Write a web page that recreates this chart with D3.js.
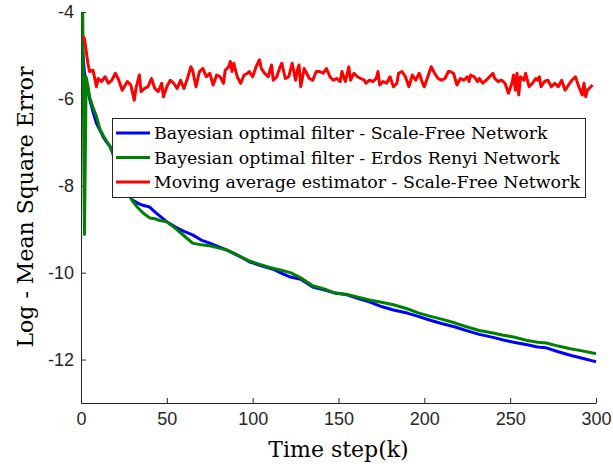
<!DOCTYPE html>
<html>
<head>
<meta charset="utf-8">
<script src="https://cdn.jsdelivr.net/npm/d3@7"></script>
<style>
  body { margin: 0; background: #fff; }
  svg { display: block; }
</style>
</head>
<body>
<div id="chart"></div>
<script>
// [time step, log MSE]
var bayesScaleFree = [
    [1, -4.9], [2, -5.4], [3, -5.6], [4, -5.8], [5, -6.0], [7, -6.3], [9, -6.56], [11, -6.72],
    [13, -6.88], [15, -7.0], [17, -7.1], [19, -7.3], [22, -7.6], [25, -7.9], [28, -8.2], [30, -8.33],
    [33, -8.4], [36, -8.45], [40, -8.49], [43, -8.6], [46, -8.7], [50, -8.83], [55, -8.95], [60, -9.05],
    [65, -9.13], [70, -9.25], [75, -9.32], [80, -9.4], [85, -9.48], [90, -9.58], [95, -9.68], [98, -9.75],
    [105, -9.84], [112, -9.92], [116, -10.0], [122, -10.1], [128, -10.15], [135, -10.33], [142, -10.4],
    [148, -10.47], [155, -10.51], [162, -10.6], [168, -10.67], [175, -10.78], [182, -10.86], [190, -10.93],
    [196, -11.0], [203, -11.09], [210, -11.17], [218, -11.25], [225, -11.34], [232, -11.42], [240, -11.49],
    [246, -11.55], [252, -11.6], [260, -11.66], [266, -11.71], [271, -11.73], [278, -11.82], [285, -11.9],
    [292, -11.97], [298, -12.03], [300, -12.05]
];

var bayesErdosRenyi = [
    [1, -4.0], [2, -9.12], [3, -5.5], [4, -5.7], [5, -5.95], [7, -6.2], [9, -6.4], [11, -6.7],
    [13, -6.85], [15, -6.98], [17, -7.1], [19, -7.3], [22, -7.6], [25, -7.9], [28, -8.2], [30, -8.35],
    [33, -8.5], [36, -8.62], [40, -8.74], [43, -8.76], [46, -8.8], [50, -8.83], [55, -8.98], [60, -9.15],
    [65, -9.32], [70, -9.36], [75, -9.38], [80, -9.43], [85, -9.48], [90, -9.57], [95, -9.67], [98, -9.73],
    [105, -9.82], [110, -9.88], [116, -9.94], [122, -10.0], [128, -10.12], [135, -10.3], [142, -10.38],
    [148, -10.47], [155, -10.5], [162, -10.57], [168, -10.63], [175, -10.68], [182, -10.74], [190, -10.83],
    [196, -10.92], [203, -11.0], [210, -11.07], [218, -11.16], [225, -11.25], [232, -11.33], [240, -11.39],
    [246, -11.44], [252, -11.48], [260, -11.56], [266, -11.6], [271, -11.62], [278, -11.69], [285, -11.75],
    [292, -11.8], [298, -11.85], [300, -11.86]
];

var movingAverage = [
    [1, -4.55], [2, -4.61], [4, -5.18], [5, -5.37], [7, -5.34], [9, -5.72], [10, -5.53], [12, -5.60],
    [14, -5.49], [16, -5.64], [18, -5.57], [20, -5.41], [22, -5.57], [24, -5.80], [27, -5.60], [29, -5.68],
    [31, -6.03], [32, -5.76], [34, -5.45], [35, -5.83], [37, -5.76], [39, -5.72], [41, -5.53], [43, -5.76],
    [45, -5.83], [47, -5.64], [48, -5.95], [50, -5.72], [52, -5.57], [54, -5.64], [56, -5.76], [58, -5.57],
    [60, -5.76], [62, -5.53], [64, -5.26], [65, -5.34], [67, -5.72], [69, -5.37], [71, -5.30], [73, -5.49],
    [75, -5.41], [77, -5.68], [79, -5.45], [81, -5.49], [83, -5.64], [84, -5.34], [86, -5.26], [87, -5.14],
    [88, -5.37], [89, -5.18], [91, -5.49], [93, -5.64], [95, -5.45], [97, -5.41], [98, -5.37], [100, -5.49],
    [102, -5.26], [104, -5.10], [105, -5.30], [107, -5.41], [109, -5.49], [111, -5.22], [112, -5.57],
    [114, -5.49], [116, -5.26], [117, -5.18], [119, -5.53], [121, -5.49], [123, -5.18], [125, -5.57],
    [126, -5.34], [127, -5.22], [128, -5.72], [130, -5.30], [132, -5.45], [133, -5.53], [135, -5.57],
    [137, -5.37], [139, -5.37], [141, -5.41], [143, -5.30], [145, -5.49], [147, -5.57], [149, -5.53],
    [151, -5.60], [152, -5.37], [154, -5.60], [156, -5.26], [157, -5.57], [159, -5.41], [161, -5.49],
    [163, -5.53], [165, -5.57], [166, -5.64], [168, -5.57], [170, -5.60], [172, -5.53], [173, -5.37],
    [174, -5.68], [176, -5.60], [178, -5.64], [180, -5.49], [182, -5.72], [184, -5.64], [185, -5.41],
    [187, -5.37], [189, -5.49], [191, -5.72], [193, -5.45], [195, -5.57], [197, -5.41], [199, -5.64],
    [200, -5.72], [202, -5.49], [204, -5.26], [206, -5.41], [208, -5.53], [210, -5.57], [212, -5.53],
    [214, -5.37], [215, -5.37], [217, -5.41], [219, -5.68], [221, -5.53], [223, -5.57], [225, -5.49],
    [226, -5.60], [227, -5.45], [229, -5.49], [231, -5.60], [232, -5.53], [234, -5.64], [236, -5.57],
    [238, -5.49], [240, -5.41], [241, -5.53], [243, -5.60], [245, -5.57], [247, -5.64], [249, -5.87],
    [251, -5.64], [252, -5.45], [253, -5.80], [254, -5.41], [255, -5.91], [256, -5.49], [258, -5.57],
    [259, -5.41], [261, -5.72], [263, -5.64], [265, -5.53], [266, -5.57], [267, -5.49], [268, -5.72],
    [270, -5.60], [272, -5.57], [274, -5.72], [276, -5.64], [278, -5.72], [280, -5.57], [282, -5.80],
    [284, -5.68], [286, -5.57], [288, -5.49], [290, -5.72], [292, -5.91], [293, -5.64], [294, -5.95],
    [295, -5.80], [297, -5.72], [298, -5.68]
];

var xTicks = [0, 50, 100, 150, 200, 250, 300];
var yTicks = [-12, -10, -8, -6, -4];

var seriesNames = [
    "Bayesian optimal filter - Scale-Free Network",
    "Bayesian optimal filter - Erdos Renyi Network",
    "Moving average estimator - Scale-Free Network"
];
var seriesColors = ["#0000ff", "#008000", "#ff0000"];

var width = 613, height = 470;
var margin = { top: 12, right: 17, bottom: 67, left: 81 };
var axisColor = "#262626";

var svg = d3.select("#chart")
    .append("svg")
    .attr("width", width)
    .attr("height", height);

var x = d3.scaleLinear()
    .domain([0, 300])
    .range([margin.left, width - margin.right]);

var y = d3.scaleLinear()
    .domain([-13, -4])
    .range([height - margin.bottom, margin.top]);

// plain hyphen for negatives, like the matlab figure
var plainFormat = function (d) { return String(d); };

// axes, matlab style: ticks pointing inward, no box
var xAxis = svg.append("g")
    .attr("transform", "translate(0," + (height - margin.bottom) + ")")
    .call(d3.axisBottom(x).tickValues(xTicks).tickFormat(plainFormat)
        .tickSizeInner(-5).tickSizeOuter(0).tickPadding(9));

var yAxis = svg.append("g")
    .attr("transform", "translate(" + margin.left + ",0)")
    .call(d3.axisLeft(y).tickValues(yTicks).tickFormat(plainFormat)
        .tickSizeInner(-5).tickSizeOuter(0).tickPadding(7));

[xAxis, yAxis].forEach(function (g) {
    g.select(".domain").attr("stroke", axisColor).attr("stroke-width", 1);
    g.selectAll(".tick line").attr("stroke", axisColor);
    g.selectAll(".tick text")
        .attr("fill", axisColor)
        .style("font-family", "'Liberation Sans', Arial, sans-serif")
        .style("font-size", "18px");
});

// lines
var line = d3.line()
    .x(function (d) { return x(d[0]); })
    .y(function (d) { return y(d[1]); });

var allSeries = [bayesScaleFree, bayesErdosRenyi, movingAverage];

allSeries.forEach(function (s, i) {
    svg.append("path")
        .datum(s)
        .attr("d", line)
        .attr("fill", "none")
        .attr("stroke", seriesColors[i])
        .attr("stroke-width", 3)
        .attr("stroke-linejoin", "round");
});

// axis labels
svg.append("text")
    .attr("x", x(150))
    .attr("y", 457)
    .attr("text-anchor", "middle")
    .style("font-family", "'DejaVu Serif', serif")
    .style("font-size", "22px")
    .attr("fill", "#000")
    .text("Time step(k)");

svg.append("text")
    .attr("transform", "translate(33," + 207 + ") rotate(-90)")
    .attr("text-anchor", "middle")
    .style("font-family", "'DejaVu Serif', serif")
    .style("font-size", "22px")
    .attr("fill", "#000")
    .text("Log - Mean Square Error");

// legend
var legend = svg.append("g").attr("class", "legend");

legend.append("rect")
    .attr("x", 112.5)
    .attr("y", 118.5)
    .attr("width", 473)
    .attr("height", 79)
    .attr("fill", "#fff")
    .attr("stroke", axisColor)
    .attr("stroke-width", 1);

seriesNames.forEach(function (name, i) {
    var ly = 133 + i * 24.5;
    legend.append("line")
        .attr("x1", 116)
        .attr("x2", 150)
        .attr("y1", ly)
        .attr("y2", ly)
        .attr("stroke", seriesColors[i])
        .attr("stroke-width", 3);

    legend.append("text")
        .attr("x", 154)
        .attr("y", ly + 6)
        .style("font-family", "'DejaVu Serif', serif")
        .style("font-size", "17.4px")
        .attr("fill", "#000")
        .text(name);
});
</script>
</body>
</html>
